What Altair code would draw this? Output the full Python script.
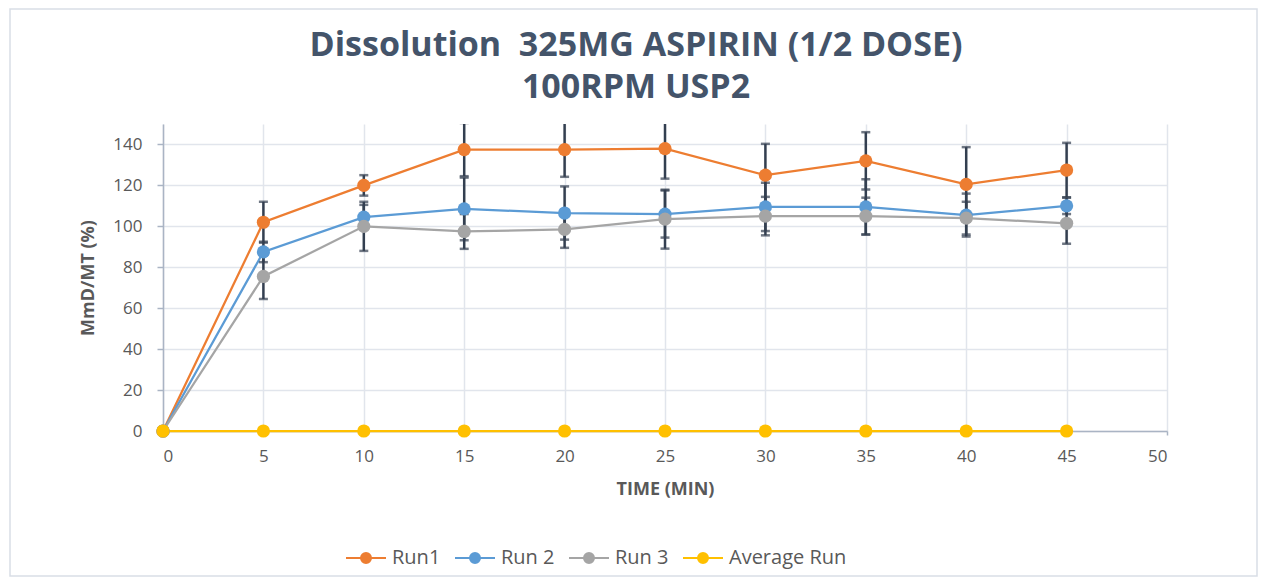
import altair as alt
import pandas as pd

time = [0, 5, 10, 15, 20, 25, 30, 35, 40, 45]
series_names = ["Run1", "Run 2", "Run 3", "Average Run"]
run1 = [0, 102, 120, 137.5, 137.5, 138, 125, 132, 120.5, 127.5]
run2 = [0, 87.5, 104.5, 108.5, 106.5, 106, 109.5, 109.5, 105.5, 110]
run3 = [0, 75.5, 100, 97.5, 98.5, 103.5, 105, 105, 104, 101.5]
avg = [0, 0, 0, 0, 0, 0, 0, 0, 0, 0]
err1 = [0, 10, 5, 13, 13.3, 14.7, 15.3, 14, 18.2, 13.3]
err2 = [0, 5, 6, 15.3, 13, 11.5, 11.8, 13.5, 10.5, 4]
err3 = [0, 11, 12, 8.5, 9, 14.4, 9.4, 9, 8, 10]
colors = ["#ed7d31", "#5b9bd5", "#a5a5a5", "#ffc000"]

rows = []
for name, vals, errs in [("Run1", run1, err1), ("Run 2", run2, err2),
                         ("Run 3", run3, err3), ("Average Run", avg, None)]:
    for i, t in enumerate(time):
        e = errs[i] if errs else None
        rows.append({"time": t, "series": name, "value": vals[i],
                     "lo": vals[i] - e if e else None,
                     "hi": vals[i] + e if e else None})
df = pd.DataFrame(rows)
err_df = df.dropna(subset=["lo"])

FONT = "Open Sans"
TXT = "#595959"
ERR = "#333f50"

xs = alt.Scale(domain=[0, 50], nice=False)
ys = alt.Scale(domain=[0, 150], nice=False)
x_axis = alt.Axis(values=list(range(0, 51, 5)), title="TIME (MIN)", grid=True,
                  tickSize=4, labelPadding=13, titleY=58, titleBaseline="middle")
y_axis = alt.Axis(values=list(range(0, 141, 20)), title="MmD/MT (%)", grid=True,
                  tickSize=6, labelPadding=15, titleX=-75, titleY=153.5,
                  titleBaseline="middle", titleAngle=270)
cscale = alt.Scale(domain=series_names, range=colors)

# legend symbol: a line with a "filled" dot made of concentric stroked rings
legend_path = ("M-2,0H2"
               "M0.5,0A0.5,0.5,0,1,1,-0.5,0A0.5,0.5,0,1,1,0.5,0"
               "M0.3,0A0.3,0.3,0,1,1,-0.3,0A0.3,0.3,0,1,1,0.3,0"
               "M0.1,0A0.1,0.1,0,1,1,-0.1,0A0.1,0.1,0,1,1,0.1,0")
legend = alt.Legend(title=None, orient="none", legendX=192, legendY=423,
                    direction="horizontal", symbolType=legend_path,
                    symbolSize=400, symbolStrokeWidth=2, labelOffset=15,
                    columnPadding=10, gridAlign="none", padding=0,
                    labelFont=FONT, labelFontSize=20, labelColor=TXT)

base = alt.Chart(df)
lines = base.mark_line(strokeWidth=2.25).encode(
    x=alt.X("time:Q", scale=xs, axis=x_axis),
    y=alt.Y("value:Q", scale=ys, axis=y_axis),
    color=alt.Color("series:N", scale=cscale, legend=legend, sort=series_names),
)

ebase = alt.Chart(err_df)
rules = ebase.mark_rule(color=ERR, strokeWidth=2.5, clip=True).encode(
    x="time:Q", y="lo:Q", y2="hi:Q")
cap_lo = ebase.mark_tick(color=ERR, thickness=2.5, size=9, orient="horizontal",
                         clip=True).encode(x="time:Q", y="lo:Q")
cap_hi = ebase.mark_tick(color=ERR, thickness=2.5, size=9, orient="horizontal",
                         clip=True).encode(x="time:Q", y="hi:Q")

points = base.mark_circle(size=175, opacity=1).encode(
    x="time:Q", y="value:Q",
    color=alt.Color("series:N", scale=cscale, legend=None),
)

frame = alt.Chart(pd.DataFrame({"a": [0]})).mark_rect(
    fill="transparent", stroke="#d9dee6", strokeWidth=1.5, clip=False).encode(
    x=alt.value(-153), x2=alt.value(1094), y=alt.value(-115), y2=alt.value(452))

chart = alt.layer(frame, lines, rules, cap_lo, cap_hi, points).properties(
    width=1004, height=307,
    autosize=alt.AutoSizeParams(type="none"),
    padding={"left": 155, "top": 116, "right": 96, "bottom": 146},
    title=alt.TitleParams(
        text=["Dissolution\u00a0 325MG ASPIRIN (1/2 DOSE)", "100RPM USP2"],
        font=FONT, fontSize=34, fontWeight="bold", color="#44546a",
        lineHeight=42, anchor="middle", frame="group", dx=-29, offset=-97),
).configure_view(stroke=None).configure_axis(
    labelFont=FONT, labelFontSize=17, labelColor=TXT,
    titleFont=FONT, titleFontSize=18, titleFontWeight="bold", titleColor=TXT,
    gridColor="#e1e5ec", gridWidth=1.5, domainColor="#aab4c4", domainWidth=1.5,
    tickColor="#aab4c4", tickWidth=1.5,
)

chart.save("out.html", embed_options={"renderer": "svg", "actions": False})
